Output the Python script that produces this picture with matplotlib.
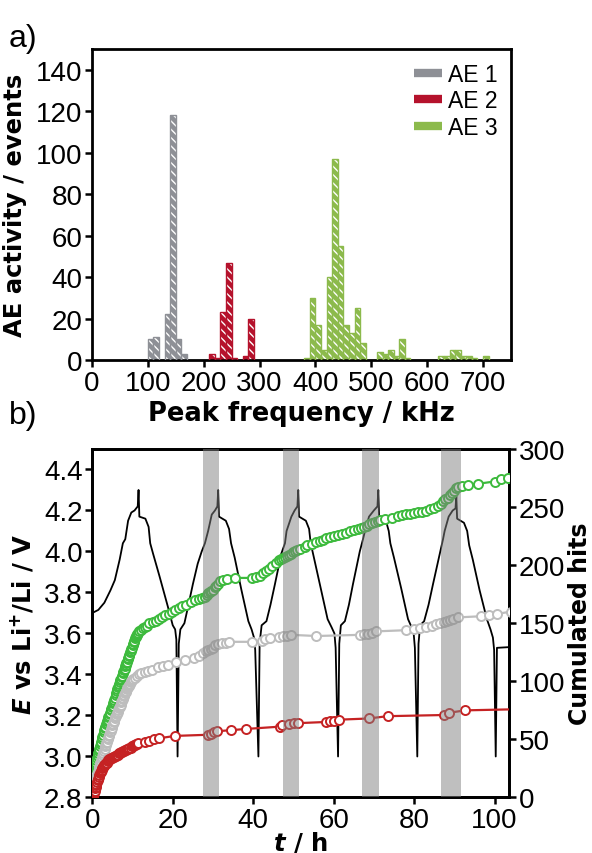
import matplotlib
matplotlib.use("Agg")
import matplotlib.pyplot as plt
from matplotlib.lines import Line2D

plt.rcParams['font.family'] = ['Liberation Sans', 'DejaVu Sans']
plt.rcParams['mathtext.fontset'] = 'custom'
plt.rcParams['mathtext.rm'] = 'DejaVu Sans:bold'
plt.rcParams['mathtext.it'] = 'DejaVu Sans:italic:bold'
plt.rcParams['mathtext.bf'] = 'DejaVu Sans:bold'
plt.rcParams['hatch.linewidth'] = 1.0

TICK_FONT = ['Liberation Sans Narrow', 'Liberation Sans']
LABEL_FONT = ['DejaVu Sans']

# ---- panel a: peak frequency histogram (left bin edges, kHz) ----
ae1_freq = [100, 110, 130, 140, 150, 160]
ae1_count = [10, 11, 22, 118, 10, 3]
ae2_freq = [210, 220, 230, 240, 250, 270, 280]
ae2_count = [3, 1, 23, 47, 1, 2, 20]
ae3_freq = [380, 390, 400, 410, 420, 430, 440, 450, 460, 470, 480,
            510, 520, 530, 540, 550, 560, 620, 630, 640, 650, 660, 670, 680, 700]
ae3_count = [1, 30, 17, 5, 40, 97, 55, 17, 13, 25, 8,
             4, 3, 5, 2, 10, 1, 2, 2, 5, 5, 2, 2, 1, 2]
ae_labels = ["AE 1", "AE 2", "AE 3"]
ae_colors = ["#8e9096", "#b5122c", "#8cba4c"]

# ---- panel b: potential curve ----
volt_t = [0, 1.5, 3, 4.5, 5.6, 6.8, 7.6, 8.2, 8.9, 9.7, 10.5, 11.3, 11.5, 11.7,
          13.2, 14.0, 14.4, 15.1, 16.7, 18.8, 20.0, 20.6, 20.9, 21.2,
          21.5, 21.9, 22.9, 23.8, 25.0, 26.2, 27.2, 28.0, 28.8, 29.7, 30.5, 31.1, 31.3, 31.5,
          33.2, 34.0, 34.5, 35.4, 37.1, 38.8, 39.6, 40.2, 40.5, 41.3,
          41.6, 42.1, 43.3, 44.3, 45.4, 47.0, 47.9, 48.3, 49.5, 50.3, 51.0, 51.2, 51.4,
          53.1, 53.9, 54.3, 55.1, 56.8, 58.5, 59.5, 60.2, 60.5, 61.1,
          61.4, 61.8, 62.8, 63.8, 64.8, 66.5, 67.3, 67.8, 68.8, 70.0, 70.9, 71.1, 71.3,
          73.0, 73.7, 74.1, 75.0, 76.8, 78.5, 79.4, 79.9, 80.2, 80.8,
          81.1, 81.5, 82.5, 83.6, 84.7, 86.4, 87.2, 87.6, 88.6, 89.6, 90.3, 90.5, 90.7,
          92.4, 93.2, 93.7, 94.6, 96.3, 98.1, 99.0, 99.6, 99.9, 100.3, 100.6, 105]
volt_E = [3.70, 3.715, 3.75, 3.81, 3.86, 3.96, 4.04, 4.06, 4.15, 4.19, 4.20, 4.22, 4.30, 4.17,
          4.16, 4.12, 4.04, 3.99, 3.88, 3.73, 3.64, 3.62, 3.57, 3.00,
          3.55, 3.62, 3.65, 3.73, 3.84, 3.94, 4.00, 4.04, 4.10, 4.18, 4.20, 4.22, 4.30, 4.17,
          4.15, 4.11, 4.04, 3.97, 3.81, 3.66, 3.62, 3.58, 3.52, 3.00,
          3.55, 3.64, 3.66, 3.74, 3.84, 3.99, 4.04, 4.10, 4.17, 4.20, 4.22, 4.30, 4.17,
          4.15, 4.11, 4.04, 3.97, 3.82, 3.67, 3.63, 3.60, 3.53, 3.00,
          3.55, 3.64, 3.66, 3.74, 3.84, 4.00, 4.06, 4.10, 4.17, 4.20, 4.22, 4.30, 4.17,
          4.15, 4.10, 4.04, 3.97, 3.82, 3.67, 3.63, 3.60, 3.53, 3.00,
          3.55, 3.64, 3.66, 3.74, 3.84, 3.99, 4.06, 4.10, 4.17, 4.20, 4.21, 4.27, 4.16,
          4.14, 4.10, 4.03, 3.96, 3.81, 3.67, 3.62, 3.58, 3.52, 3.00, 3.53, 3.535]

# ---- panel b: cumulated hits ----
green_t = [0.1, 0.2, 0.3, 0.4, 0.5, 0.6, 0.7, 0.8, 0.9, 1.0, 1.15, 1.3, 1.45, 1.6, 1.75,
           1.9, 2.05, 2.2, 2.35, 2.5, 2.65, 2.8, 2.95, 3.1, 3.25, 3.4, 3.55, 3.7, 3.85,
           4.0, 4.15, 4.3, 4.45, 4.6, 4.75, 4.9, 5.05, 5.2, 5.35, 5.5, 5.65, 5.8, 5.95,
           6.1, 6.25, 6.4, 6.55, 6.7, 6.85, 7.0, 7.15, 7.3, 7.45, 7.6, 7.75, 7.9, 8.05,
           8.2, 8.35, 8.5, 8.65, 8.8, 8.95, 9.1, 9.25, 9.4, 9.55, 9.7, 9.85, 10.0, 10.15,
           10.3, 10.45, 10.6, 10.75, 10.9, 11.05, 11.2, 11.4, 11.6,
           12.0, 12.5, 13.0, 13.6, 14.2, 15.0,
           15.8, 16.6, 17.4, 18.2, 19.0, 19.8, 20.6, 21.5, 22.4, 23.3, 24.5, 25.6, 26.5,
           27.3, 27.9, 28.4, 28.8, 29.2, 29.6, 30.0, 30.4, 30.8, 31.2, 31.8, 32.6, 33.5,
           35.4, 39.6, 40.8, 41.6, 42.4, 43.2, 44.0, 44.8, 45.6, 46.4, 47.0, 47.5, 48.0,
           48.5, 49.0, 49.5, 50.0, 50.5, 51.0, 51.6, 52.8, 53.5, 54.5, 55.5, 56.5, 57.3,
           58.2, 59.0, 60.0, 61.0, 62.0, 63.0, 64.0, 65.0, 66.0, 66.8, 67.5, 68.2, 68.9,
           69.6, 70.3, 71.0, 71.6, 72.8, 74.5, 76.0, 77.0, 78.0, 79.0, 80.0, 81.0, 82.0,
           83.0, 84.0, 85.0, 86.0, 86.6, 87.2, 87.8, 88.4, 89.0, 89.5, 90.0, 90.5, 91.0,
           91.8, 93.5, 95.8, 100.0, 101.5, 103.4, 106.0]
green_hits = [12, 15, 18, 20, 23, 25, 27, 28, 30, 32, 34, 36, 38, 40, 42,
              44, 46, 48, 50, 52, 54, 56, 58, 60, 61, 63, 64, 66, 67,
              69, 70, 72, 73, 75, 76, 78, 79, 81, 82, 84, 86, 88, 90,
              92, 93, 95, 96, 98, 99, 101, 102, 104, 105, 107, 108, 110, 111,
              113, 114, 116, 117, 119, 120, 122, 123, 125, 126, 128, 129, 131, 132,
              134, 135, 137, 138, 139, 140, 141, 142, 143,
              144, 146, 147, 148, 150, 151,
              152, 154, 155, 157, 158, 160, 161, 163, 165, 166, 168, 170, 171,
              172, 173, 174, 176, 177, 178, 179, 181, 182, 184, 186, 187, 188,
              189, 189, 190, 191, 193, 195, 197, 199, 202, 204, 205, 206, 207,
              208, 209, 210, 211, 212, 213, 214, 216, 217, 218, 220, 221, 222,
              223, 224, 225, 226, 227, 228, 229, 230, 231, 232, 233, 234, 235,
              236, 237, 238, 239, 240, 241, 242, 243, 244, 244, 245, 246, 246,
              247, 248, 249, 251, 253, 255, 257, 258, 260, 262, 264, 266, 267,
              268, 269, 270, 272, 274, 275, 277]

gray_t = [0.1, 0.2, 0.35, 0.5, 0.65, 0.8, 0.95, 1.1, 1.25, 1.4, 1.55, 1.7, 1.85, 2.0,
          2.15, 2.3, 2.45, 2.6, 2.75, 2.9, 3.05, 3.2, 3.35, 3.5, 3.65, 3.8, 3.95, 4.1,
          4.25, 4.4, 4.55, 4.7, 4.85, 5.0, 5.15, 5.3, 5.45, 5.6, 5.75, 5.9, 6.05, 6.2,
          6.35, 6.5, 6.65, 6.8, 6.95, 7.1, 7.25, 7.4, 7.55, 7.7, 7.85, 8.0, 8.15, 8.3,
          8.45, 8.6, 8.75, 8.9, 9.05, 9.2, 9.35, 9.5, 9.65, 9.8, 10.1, 10.5, 11.0, 11.5,
          12.2, 13.0, 13.8, 14.8, 16.3, 17.5, 18.8, 20.9,
          23.0, 25.4, 26.5, 27.5, 28.2, 28.8, 29.4, 30.0, 30.6, 31.2, 32.2, 33.2, 34.0,
          39.6, 42.1, 43.0, 44.2, 46.5, 47.5, 48.5, 49.5, 55.7, 66.5, 67.5, 68.5, 69.6,
          70.6, 78.0, 80.0, 81.5, 83.0, 84.5, 85.5, 86.5, 87.5, 88.2, 89.0, 89.8, 90.8,
          96.6, 98.6, 100.7, 104.0, 106.0]
gray_hits = [3, 5, 8, 10, 12, 14, 16, 18, 20, 22, 24, 26, 28, 30,
             31, 33, 35, 37, 38, 40, 42, 44, 45, 47, 48, 50, 51, 53,
             54, 56, 57, 59, 60, 62, 63, 65, 66, 68, 69, 70, 72, 73,
             74, 75, 77, 78, 79, 80, 82, 83, 85, 86, 87, 88, 90, 91,
             92, 93, 94, 95, 96, 97, 98, 99, 100, 101, 102, 103, 105, 106,
             107, 108, 109, 110, 112, 113, 114, 117,
             118, 120, 122, 124, 126, 127, 128, 129, 131, 132, 133, 133, 134,
             134, 135, 136, 137, 138, 139, 139, 140, 139, 140, 141, 141, 142,
             143, 144, 145, 146, 147, 148, 149, 150, 151, 152, 153, 154, 155,
             156, 157, 158, 160, 161]

red_t = [0.1, 0.2, 0.3, 0.4, 0.5, 0.6, 0.7, 0.8, 0.9, 1.0, 1.15, 1.3, 1.45, 1.6, 1.75,
         1.9, 2.05, 2.2, 2.35, 2.5, 2.65, 2.8, 3.0, 3.2, 3.4, 3.6, 3.8, 4.0, 4.25, 4.5,
         4.75, 5.0, 5.25, 5.5, 5.75, 6.0, 6.25, 6.5, 6.75, 7.0, 7.25, 7.5, 7.75, 8.0,
         8.25, 8.5, 8.75, 9.0, 9.25, 9.5, 9.75, 10.0, 10.25, 10.5, 10.75, 11.0, 11.4,
         13.2, 14.2, 15.3, 16.7, 20.5, 28.8, 29.5, 30.2, 31.0, 34.6, 38.3, 46.7, 47.2,
         48.8, 50.2, 51.2, 58.1, 59.0, 60.0, 61.4, 68.7, 73.4, 87.5, 88.8, 92.7, 106.0]
red_hits = [0, 1, 3, 4, 5, 6, 8, 9, 11, 12, 13, 15, 16, 18, 19,
            21, 22, 23, 24, 25, 26, 27, 28, 29, 30, 30, 31, 32, 33, 33,
            34, 34, 35, 35, 36, 36, 37, 37, 38, 38, 39, 39, 40, 40,
            41, 41, 42, 42, 43, 43, 44, 44, 45, 45, 46, 46, 47,
            48, 49, 50, 51, 53, 54, 55, 56, 57, 58, 59, 61, 62,
            63, 64, 64, 65, 66, 66, 67, 68, 70, 71, 73, 75, 76]

hit_colors = ["#3dba3d", "#bdbdbd", "#c52223"]

band_start = [27.6, 47.3, 67.0, 86.8]
band_end = [31.5, 51.3, 71.2, 91.6]

fig = plt.figure(figsize=(5.92, 8.54), dpi=100)

# ---------------- panel a ----------------
ax = fig.add_axes([0.1554, 0.5773, 0.7078, 0.3642])
for fr, cnt, col in zip([ae1_freq, ae2_freq, ae3_freq],
                        [ae1_count, ae2_count, ae3_count], ae_colors):
    ax.bar(fr, cnt, width=10, align='edge', color=col, edgecolor='white',
           linewidth=0, hatch='\\\\\\\\', zorder=2)
    ax.bar(fr, cnt, width=10, align='edge', fill=False, edgecolor=col,
           linewidth=1.0, zorder=3)
ax.set_xlim(0, 750)
ax.set_ylim(0, 150)
ax.set_xticks(range(0, 701, 100))
ax.set_yticks(range(0, 141, 20))
ax.set_xlabel("Peak frequency / kHz", fontsize=18.5, fontweight='bold',
              family=LABEL_FONT, labelpad=3)
ax.set_ylabel("AE activity / events", fontsize=17.5, fontweight='bold',
              family=LABEL_FONT, labelpad=6)
handles = [Line2D([], [], color=c, lw=6, solid_capstyle='butt') for c in ae_colors]
ax.legend(handles, ae_labels, loc='upper right', frameon=False, fontsize=16.5,
          handlelength=1.2, handletextpad=0.25, labelspacing=0.15,
          borderaxespad=0.2)

# ---------------- panel b ----------------
ax1 = fig.add_axes([0.1559, 0.065, 0.7039, 0.4081])
ax1.plot(volt_t, volt_E, color='black', lw=1.3, zorder=2)
ax1.set_xlim(0, 103.6)
ax1.set_ylim(2.8, 4.5)
ax1.set_xticks(range(0, 101, 20))
ax1.set_yticks([2.8, 3.0, 3.2, 3.4, 3.6, 3.8, 4.0, 4.2, 4.4])
ax1.set_yticklabels(["2.8", "3.0", "3.2", "3.4", "3.6", "3.8", "4.0", "4.2", "4.4"])
ax1.set_xlabel(r"$\mathit{t}$ / h", fontsize=17.5, fontweight='bold',
               family=LABEL_FONT, labelpad=-3)
ax1.set_ylabel(r"$\mathit{E}$ vs Li$^{+}$/Li / V", fontsize=17.5, fontweight='bold',
               family=LABEL_FONT, labelpad=6)

ax2 = ax1.twinx()
for tt, hh, col in zip([green_t, gray_t, red_t], [green_hits, gray_hits, red_hits],
                       hit_colors):
    ax2.plot(tt, hh, '-o', color=col, lw=1.6, ms=6.5, mfc='white', mec=col,
             mew=1.4, zorder=3)
for s, e in zip(band_start, band_end):
    ax2.axvspan(s, e, color='#808080', alpha=0.5, lw=0, zorder=5)
ax2.set_ylim(0, 300)
ax2.set_yticks(range(0, 301, 50))
ax2.set_ylabel("Cumulated hits", fontsize=17, fontweight='bold',
               family=LABEL_FONT, labelpad=2)

for a in [ax, ax1, ax2]:
    for sp in a.spines.values():
        sp.set_linewidth(2.0)
    a.tick_params(direction='out', length=5, width=1.8, pad=2)
    for lab in a.get_xticklabels() + a.get_yticklabels():
        lab.set_family(TICK_FONT)
        lab.set_fontsize(20)

ax.tick_params(top=False, right=False)
ax1.tick_params(right=False)

fig.text(0.015, 0.945, "a)", fontsize=23)
fig.text(0.015, 0.503, "b)", fontsize=23)

fig.savefig("out.png", dpi=100)
